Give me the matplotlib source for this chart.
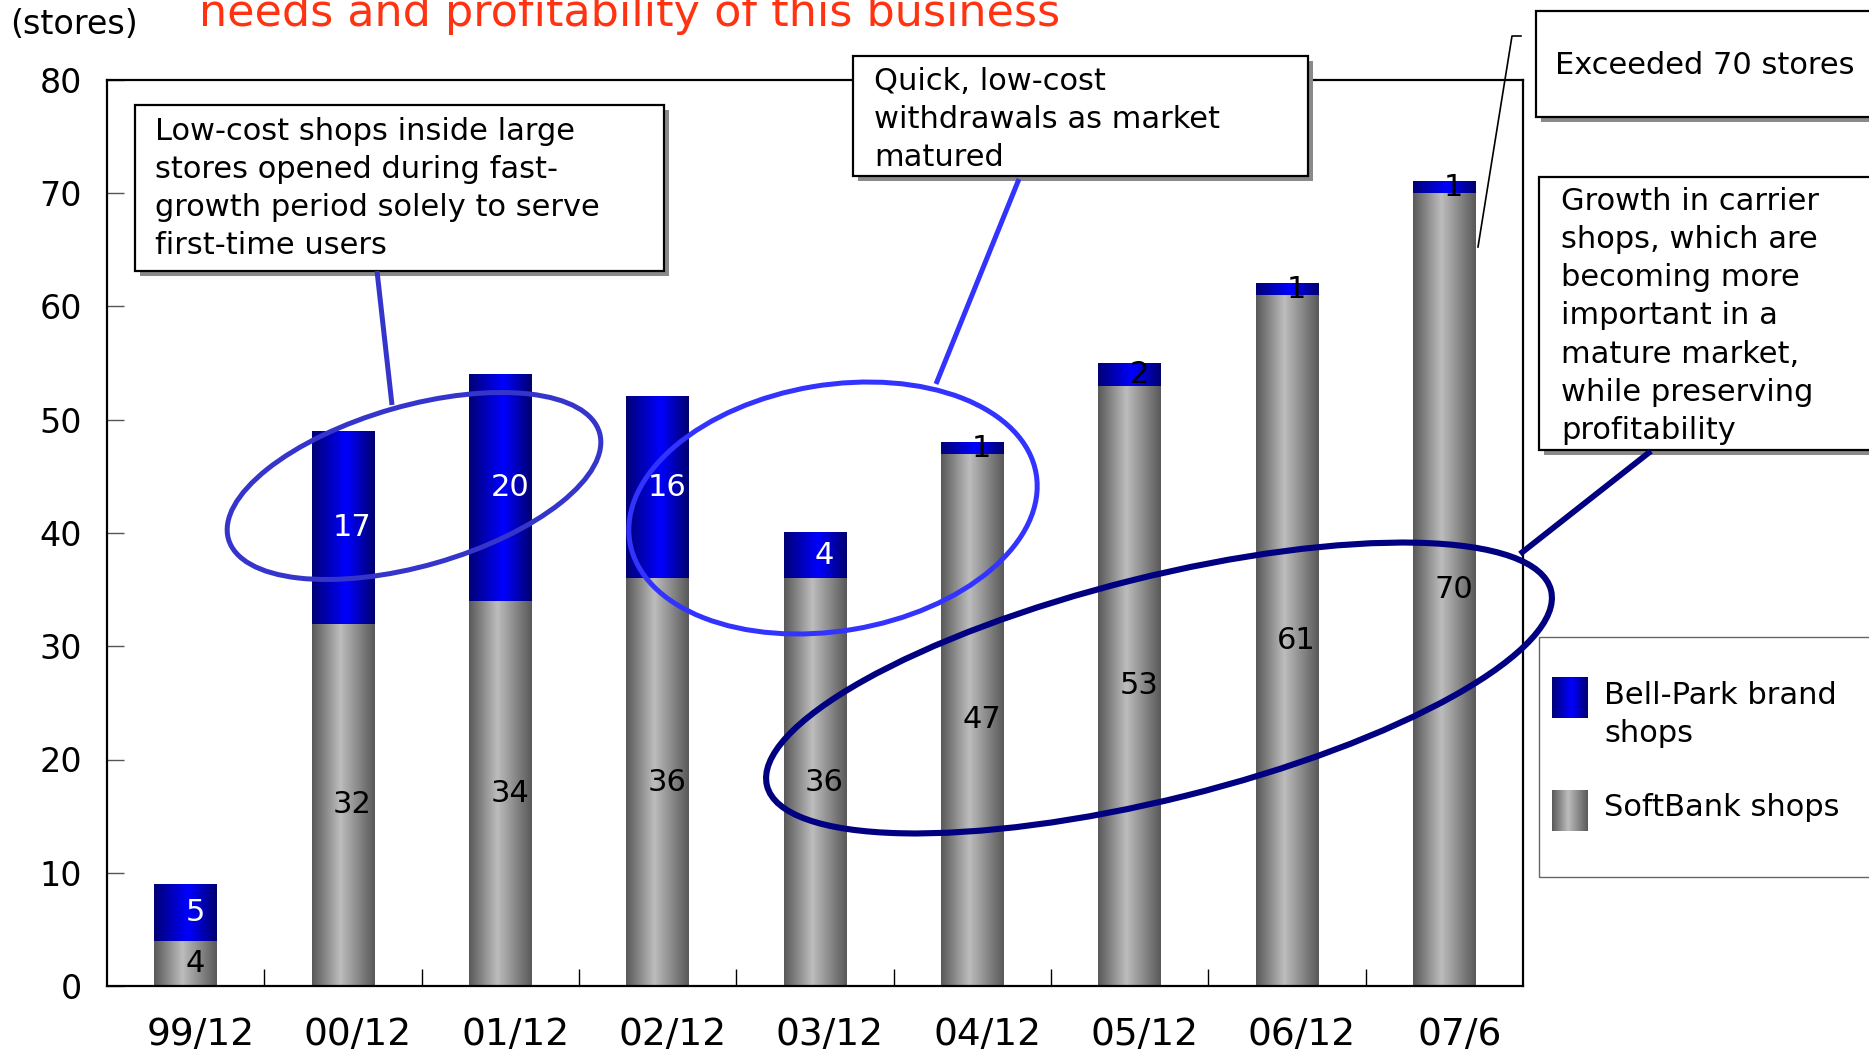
import numpy as np
import matplotlib

matplotlib.use("Agg")
import matplotlib.pyplot as plt
from matplotlib.colors import LinearSegmentedColormap
from matplotlib.patches import Ellipse, Rectangle
from matplotlib.transforms import ScaledTranslation

periods = ["99/12", "00/12", "01/12", "02/12", "03/12", "04/12", "05/12", "06/12", "07/6"]
softbank_shops = [4, 32, 34, 36, 36, 47, 53, 61, 70]
bellpark_shops = [5, 17, 20, 16, 4, 1, 2, 1, 1]
y_ticks = [0, 10, 20, 30, 40, 50, 60, 70, 80]

W, H = 1869, 1055
PLAIN = ["DejaVu Sans"]

fig = plt.figure(figsize=(W / 100, H / 100), dpi=100)
ax = fig.add_axes([107 / W, 1 - 986 / H, (1523 - 107) / W, (986 - 80) / H])

gray_cmap = LinearSegmentedColormap.from_list(
    "gray_bar", [(0, "#5a5a5a"), (0.45, "#bdbdbd"), (1, "#5a5a5a")])
blue_cmap = LinearSegmentedColormap.from_list(
    "blue_bar", [(0, "#000078"), (0.55, "#0000ff"), (1, "#000070")])
ramp = np.linspace(0, 1, 64).reshape(1, -1)

x = np.arange(len(periods))
low_bars = ax.bar(x, softbank_shops, width=0.4, color="none", zorder=1)
high_bars = ax.bar(x, bellpark_shops, width=0.4, bottom=softbank_shops, color="none", zorder=1)


def fill_gradient(target, bars, cmap):
    for rect in bars:
        x0, y0 = rect.get_x(), rect.get_y()
        target.imshow(ramp, cmap=cmap, aspect="auto", interpolation="bilinear", zorder=2,
                      extent=(x0, x0 + rect.get_width(), y0, y0 + rect.get_height()))


fill_gradient(ax, low_bars, gray_cmap)
fill_gradient(ax, high_bars, blue_cmap)

for i, (s, b) in enumerate(zip(softbank_shops, bellpark_shops)):
    ax.text(i + 0.06, s / 2, str(s), ha="center", va="center", fontsize=22,
            family=PLAIN, color="black", zorder=3)
    ax.text(i + 0.06, s + b / 2, str(b), ha="center", va="center", fontsize=22,
            family=PLAIN, color="white" if b >= 4 else "black", zorder=3)

ax.set_xlim(-0.5, len(periods) - 0.5)
ax.set_ylim(0, 80)
ax.set_yticks(y_ticks)
ax.set_yticklabels([str(t) for t in y_ticks], fontsize=24, family=PLAIN)
ax.tick_params(axis="y", direction="in", length=12, width=1, color="#555555", pad=18)
ax.set_xticks(x)
ax.set_xticklabels(periods, fontsize=27, family=PLAIN)
ax.set_xticks(x[:-1] + 0.5, minor=True)
ax.tick_params(axis="x", which="major", length=0, pad=22)
ax.tick_params(axis="x", which="minor", direction="in", length=12, width=1, color="black")
shift = ScaledTranslation(0.15, 0, fig.dpi_scale_trans)
for lab in ax.get_xticklabels():
    lab.set_transform(lab.get_transform() + shift)
for spine in ax.spines.values():
    spine.set_linewidth(1.6)

# overlay in pixel coordinates for the callouts
ov = fig.add_axes([0, 0, 1, 1], zorder=5)
ov.set_xlim(0, W)
ov.set_ylim(H, 0)
ov.axis("off")

ov.text(199, 26, "needs and profitability of this business", color="#ff3311",
        fontsize=32, family=PLAIN, va="baseline")
ov.text(10, 24, "(stores)", fontsize=24, family=PLAIN, va="center")


def note_box(x0, y0, x1, y1, lines, tx, ty, step=38, shadow=True, edge="black", lw=1.6):
    if shadow:
        ov.add_patch(Rectangle((x0 + 5, y0 + 5), x1 - x0, y1 - y0, fc="#8a8a8a", ec="none"))
    ov.add_patch(Rectangle((x0, y0), x1 - x0, y1 - y0, fc="white", ec=edge, lw=lw))
    for k, line in enumerate(lines):
        ov.text(tx, ty + k * step, line, fontsize=22, family=PLAIN, va="center", ha="left")


# connectors first so the boxes sit on top of them
ov.plot([377, 392], [271, 405], color="#3535cc", lw=3.6, solid_capstyle="butt")
ov.plot([1019, 936], [179, 384], color="#3333ff", lw=3.6, solid_capstyle="butt")
ov.plot([1520, 1651], [554, 451], color="#000080", lw=4.2, solid_capstyle="butt")
ov.plot([1478, 1512, 1521], [247, 36, 36], color="black", lw=1.2)

ov.add_patch(Ellipse((414, 486), 2 * 193, 2 * 80, angle=-16, fc="none", ec="#3535cc", lw=3.6))
ov.add_patch(Ellipse((833, 508), 2 * 206, 2 * 123, angle=-9.5, fc="none", ec="#3333ff", lw=3.6))
ov.add_patch(Ellipse((1159, 688), 2 * 404, 2 * 111, angle=-14, fc="none", ec="#000080", lw=4.4))

note_box(135, 105, 664, 271,
         ["Low-cost shops inside large", "stores opened during fast-",
          "growth period solely to serve", "first-time users"], 155, 132)
note_box(853, 56, 1308, 176,
         ["Quick, low-cost", "withdrawals as market", "matured"], 874, 81)
note_box(1536, 11, 1880, 117, ["Exceeded 70 stores"], 1555, 65)
note_box(1539, 177, 1880, 450,
         ["Growth in carrier", "shops, which are", "becoming more", "important in a",
          "mature market,", "while preserving", "profitability"], 1561, 201, step=38.3)

# legend
ov.add_patch(Rectangle((1539, 637), 340, 240, fc="white", ec="#666666", lw=1.0, zorder=1))
ov.imshow(ramp, cmap=blue_cmap, aspect="auto", interpolation="bilinear", zorder=3,
          extent=(1552, 1588, 718, 677))
ov.imshow(ramp, cmap=gray_cmap, aspect="auto", interpolation="bilinear", zorder=3,
          extent=(1552, 1588, 831, 790))
ov.text(1604, 695, "Bell-Park brand", fontsize=22, family=PLAIN, va="center")
ov.text(1604, 733, "shops", fontsize=22, family=PLAIN, va="center")
ov.text(1604, 807, "SoftBank shops", fontsize=22, family=PLAIN, va="center")
ov.set_xlim(0, W)
ov.set_ylim(H, 0)

fig.savefig("out.png", dpi=100)
